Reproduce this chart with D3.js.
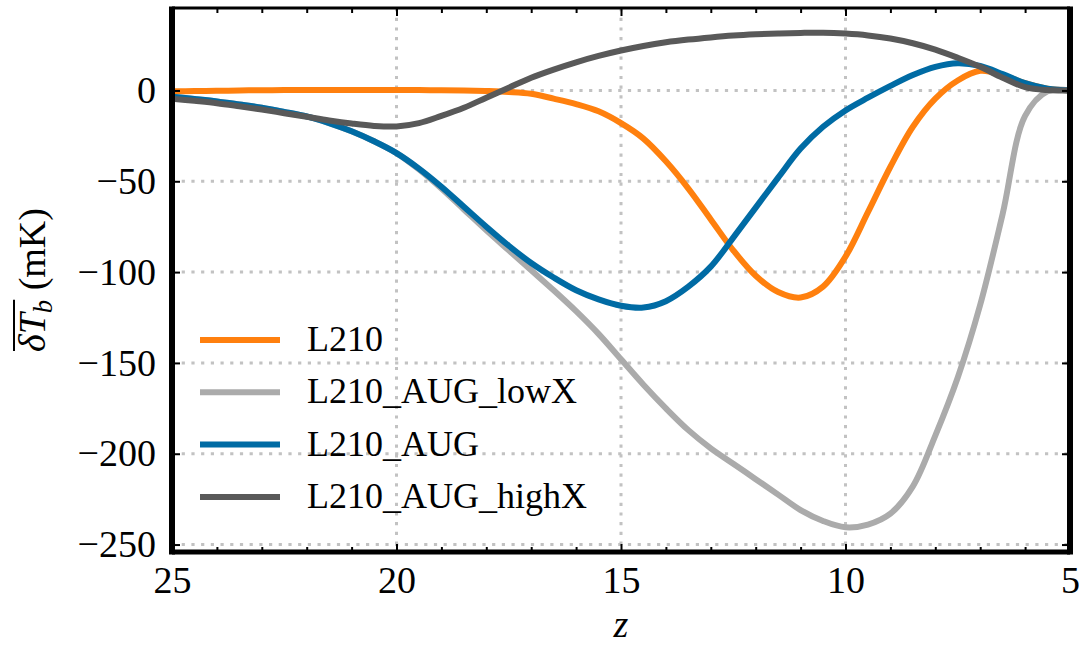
<!DOCTYPE html>
<html>
<head>
<meta charset="utf-8">
<script src="https://cdn.jsdelivr.net/npm/d3@7"></script>
<style>
html,body{margin:0;padding:0;background:#fff;}
svg{display:block;font-family:"Liberation Serif","DejaVu Serif",serif;}
</style>
</head>
<body>
<svg id="chart" width="1079" height="650"></svg>
<script>
// ---- data ----
const zValues = [25,24.5,24,23.5,23,22.5,22,21.5,21,20.5,20,19.5,19,18.5,18,17.5,17,16.5,16,15.5,15,14.5,14,13.5,13,12.5,12,11.5,11,10.5,10,9.5,9,8.5,8,7.5,7,6.5,6,5.5,5];
const seriesNames = ["L210","L210_AUG_lowX","L210_AUG","L210_AUG_highX"];
const seriesColors = ["#FF800E","#ABABAB","#006BA4","#595959"];
const L210 = [-0.5,-0.3,-0.2,0,0.1,0.2,0.2,0.3,0.3,0.3,0.3,0.2,0.1,0,-0.3,-0.8,-1.8,-4.5,-7.5,-11.5,-18,-26.5,-39,-54,-71,-88,-102,-111,-114,-108,-91.5,-67,-42,-20,-4.5,5.5,10.8,8.5,4,1,0];
const L210_AUG_lowX = [-3.5,-4.7,-6,-7.7,-9.5,-11.8,-14.3,-18,-22.5,-28,-34.5,-43.5,-54,-65.5,-77,-88,-99,-110,-121.5,-134,-148,-162,-175,-187,-197,-205.5,-214,-222.5,-231,-237,-240.5,-239,-233,-218,-190,-158,-118,-68,-14,-0.5,0];
const L210_AUG = [-3.5,-4.7,-6,-7.7,-9.5,-11.8,-14.3,-18,-22.5,-28,-34.5,-43,-53,-64,-75,-85.5,-95,-103,-110,-115,-118.5,-119.5,-116,-108,-97,-81,-64.5,-48,-32,-20,-11,-4,2.5,8.5,13,15,13.5,9,4,1,0];
const L210_AUG_highX = [-4.5,-5.7,-7,-8.7,-10.5,-12.5,-14.5,-16.5,-18.2,-19.5,-19.8,-18,-14,-9.5,-4,1.5,7,11.5,15.5,19,22,24.5,26.5,28,29.2,30.2,30.9,31.4,31.7,31.8,31.3,30.3,28.6,26,22.5,18,13,7,1.8,0.2,0];
const xTicks = [25,20,15,10,5];
const xMinorTicks = [24,23,22,21,19,18,17,16,14,13,12,11,9,8,7,6];
const yTicks = [0,-50,-100,-150,-200,-250];

// ---- layout ----
const svg = d3.select("#chart");
const L = 172, R = 1070, T = 8, B = 552;
const x = d3.scaleLinear().domain([25,5]).range([L,R]);
const y = d3.scaleLinear().domain([-254.1,45.4]).range([B,T]);
const fs = 38, lfs = 36;

svg.append("defs").append("clipPath").attr("id","clip")
  .append("rect").attr("x",L).attr("y",T).attr("width",R-L).attr("height",B-T);

// grid
const grid = svg.append("g").attr("stroke","#c2c2c2").attr("stroke-width",3).attr("stroke-dasharray","3.2,6.5");
grid.selectAll("line.gx").data(xTicks).join("line")
  .attr("x1",d=>x(d)).attr("x2",d=>x(d)).attr("y1",T).attr("y2",B);
grid.selectAll("line.gy").data(yTicks).join("line")
  .attr("x1",L).attr("x2",R).attr("y1",d=>y(d)).attr("y2",d=>y(d));

// lines
const allSeries = [L210, L210_AUG_lowX, L210_AUG, L210_AUG_highX];
const line = d3.line().x((d,i)=>x(zValues[i])).y(d=>y(d)).curve(d3.curveCatmullRom.alpha(0.5));
const lg = svg.append("g").attr("clip-path","url(#clip)");
allSeries.forEach((s,k)=>{
  lg.append("path").datum(s).attr("d",line).attr("fill","none")
    .attr("stroke",seriesColors[k]).attr("stroke-width",6).attr("stroke-linejoin","round");
});

// axes
function styleAxis(g){
  g.select(".domain").remove();
  g.selectAll(".tick line").attr("stroke","#000").attr("stroke-width",2);
  g.selectAll(".tick text").attr("font-family","Liberation Serif").attr("font-size",fs).attr("fill","#000");
}
svg.append("g").attr("transform",`translate(0,${B})`)
  .call(d3.axisBottom(x).tickValues(xTicks).tickSize(-8).tickPadding(14).tickFormat(d3.format("d")))
  .call(styleAxis);
svg.append("g").attr("transform",`translate(0,${B})`)
  .call(d3.axisBottom(x).tickValues(xMinorTicks).tickSize(-5).tickFormat(""))
  .call(styleAxis);
svg.append("g").attr("transform",`translate(0,${T})`)
  .call(d3.axisTop(x).tickValues(xTicks).tickSize(-8).tickFormat(""))
  .call(styleAxis);
svg.append("g").attr("transform",`translate(0,${T})`)
  .call(d3.axisTop(x).tickValues(xMinorTicks).tickSize(-5).tickFormat(""))
  .call(styleAxis);
svg.append("g").attr("transform",`translate(${L},0)`)
  .call(d3.axisLeft(y).tickValues(yTicks).tickSize(-8).tickPadding(16).tickFormat(d3.format("d")))
  .call(styleAxis);
svg.append("g").attr("transform",`translate(${R},0)`)
  .call(d3.axisRight(y).tickValues(yTicks).tickSize(-8).tickFormat(""))
  .call(styleAxis);

// frame
const fr = svg.append("g").attr("stroke","#000");
fr.append("line").attr("x1",L).attr("x2",L).attr("y1",T-1.5).attr("y2",B+2.5).attr("stroke-width",6);
fr.append("line").attr("x1",R).attr("x2",R).attr("y1",T-1.5).attr("y2",B+2.5).attr("stroke-width",6);
fr.append("line").attr("x1",L).attr("x2",R).attr("y1",T).attr("y2",T).attr("stroke-width",3);
fr.append("line").attr("x1",L).attr("x2",R).attr("y1",B).attr("y2",B).attr("stroke-width",5);

// legend
const leg = svg.append("g");
seriesNames.forEach((n,k)=>{
  const yy = 340 + k*52.3;
  leg.append("line").attr("x1",200).attr("x2",280).attr("y1",yy).attr("y2",yy)
    .attr("stroke",seriesColors[k]).attr("stroke-width",6);
  leg.append("text").attr("x",307).attr("y",yy+11).attr("font-size",lfs).attr("fill","#000").text(n);
});

// x label
svg.append("text").attr("x",(L+R)/2).attr("y",637).attr("text-anchor","middle")
  .attr("font-size",fs).attr("font-style","italic").text("z");

// y label
const yl = svg.append("g").attr("transform",`translate(45,${(T+B)/2}) rotate(-90)`);
const yt = yl.append("text").attr("text-anchor","middle").attr("font-size",fs).attr("fill","#000");
yt.append("tspan").attr("font-style","italic").text("δT");
yt.append("tspan").attr("font-style","italic").attr("font-size",fs*0.7).attr("dy",7).text("b");
yt.append("tspan").attr("dy",-7).text(" (mK)");
const s0 = yt.node().getStartPositionOfChar(0).x;
const e2 = yt.node().getEndPositionOfChar(2).x;
yl.append("line").attr("x1",s0+1).attr("x2",e2).attr("y1",-31).attr("y2",-31)
  .attr("stroke","#000").attr("stroke-width",2);
</script>
</body>
</html>
